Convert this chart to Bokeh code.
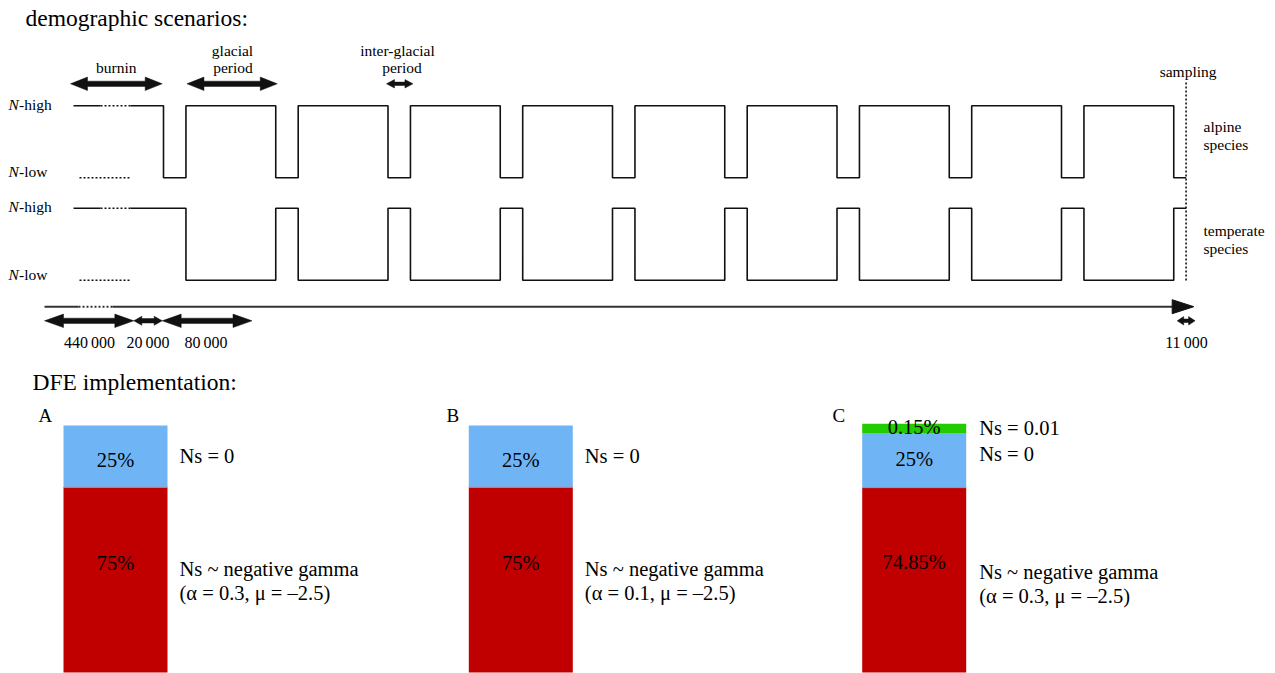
from bokeh.plotting import figure
from bokeh.models import Range1d, ColumnDataSource
from bokeh.core.properties import value
from bokeh.embed import file_html
from bokeh.resources import INLINE

# ------------------------------------------------------------------ data
burnin_gens = 440000
interglacial_gens = 20000
glacial_gens = 80000
n_cycles = 9
final_interglacial_gens = 11000
species = ["alpine", "temperate"]
species_labels = [["alpine", "species"], ["temperate", "species"]]
# population size state per phase (1 = N-high, 0 = N-low)
state_burnin = [1, 1]
state_interglacial = [0, 1]
state_glacial = [1, 0]

panels = ["A", "B", "C"]
pct_deleterious = [75, 75, 74.85]
pct_neutral = [25, 25, 25]
pct_beneficial = [0, 0, 0.15]
gamma_alpha = [0.3, 0.1, 0.3]
gamma_mu = [-2.5, -2.5, -2.5]
ns_neutral = 0
ns_beneficial = 0.01

# ------------------------------------------------------------------ layout
W, H = 1275, 673
FONT = value("Liberation Serif")
INK = "#111111"
BLUE, RED, GREEN = "#6fb5f6", "#c00000", "#22cc00"
BASE_SHIFT = 0.35  # em correction for the rendered alphabetic baseline

p = figure(width=W, height=H, x_range=Range1d(0, W), y_range=Range1d(H, 0),
           output_backend="svg", toolbar_location=None,
           x_axis_type=None, y_axis_type=None, min_border=0,
           outline_line_color=None, background_fill_color="white",
           border_fill_color="white")
p.grid.visible = False


def txt(x, y, s, size, align="left", style="normal", color="black"):
    src = ColumnDataSource(dict(x=[x], y=[y - BASE_SHIFT * size], t=[s]))
    p.text(x="x", y="y", text="t", source=src, text_font=FONT,
           text_font_size=value(f"{size}px"), text_align=align,
           text_baseline="alphabetic", text_font_style=style,
           text_color=color)


def darrow(x1, x2, y, hl, hh, st, color=INK):
    xs = [x1, x1 + hl, x1 + hl, x2 - hl, x2 - hl, x2, x2 - hl, x2 - hl, x1 + hl, x1 + hl]
    ys = [y, y - hh, y - st, y - st, y - hh, y, y + hh, y + st, y + st, y + hh]
    p.patch(xs, ys, fill_color=color, line_color=color, line_width=0.5)


# ---------------- demographic scenarios
txt(25, 25.5, "demographic scenarios:", 23.5)

X_T0 = 163.0
PX_PER_GEN = 1.1225 / 1000.0
ROW_HIGH = [105.3, 207.7]
ROW_GAP = 72.0


def tx(t):
    return X_T0 + t * PX_PER_GEN


phases = []
t = 0
for i in range(n_cycles):
    phases.append((t, t + interglacial_gens, "inter"))
    t += interglacial_gens
    phases.append((t, t + glacial_gens, "glacial"))
    t += glacial_gens
phases.append((t, t + final_interglacial_gens, "inter"))
t_end = t + final_interglacial_gens

for k, sp in enumerate(species):
    hi = ROW_HIGH[k]
    lo = hi + ROW_GAP

    def lvl(s):
        return hi if s == 1 else lo

    # burnin (broken)
    yb = lvl(state_burnin[k])
    p.line([73, 100], [yb, yb], line_color=INK, line_width=1.5)
    p.line([100, 130], [yb, yb], line_color=INK, line_width=1.5, line_dash="2 2")
    p.line([79, 130], [lo, lo], line_color=INK, line_width=1.5, line_dash="2 2")
    xs, ys = [130, X_T0], [yb, yb]
    for (a, b, kind) in phases:
        s = state_interglacial[k] if kind == "inter" else state_glacial[k]
        xs += [tx(a), tx(b)]
        ys += [lvl(s), lvl(s)]
    p.line(xs, ys, line_color=INK, line_width=1.6)

    # left labels
    txt(8, hi + 3.8, "N", 15.5, style="italic")
    txt(18.6, hi + 3.8, "-high", 15.5)
    txt(8, lo - 0.5, "N", 15.5, style="italic")
    txt(18.6, lo - 0.5, "-low", 15.5)
    # right labels
    l1, l2 = species_labels[k]
    txt(1203, hi + 26 + 2 * k, l1, 15.5)
    txt(1203, hi + 44 + 2 * k, l2, 15.5)

# sampling line
xs_end = tx(t_end)
p.line([xs_end, xs_end], [82, 281], line_color=INK, line_width=1.6, line_dash="2 2")
txt(xs_end + 2, 76, "sampling", 15.5, align="center")

# top arrows and labels
darrow(70, 161.7, 83.3, 17, 6.7, 2.6)
txt(115.8, 72, "burnin", 15.5, align="center")
darrow(tx(interglacial_gens) + 1, tx(interglacial_gens + glacial_gens) + 1.5, 83.3, 17, 6.7, 2.6)
txt(232, 55.5, "glacial", 15.5, align="center")
txt(232.5, 72.5, "period", 15.5, align="center")
xa = tx(2 * (interglacial_gens + glacial_gens))
darrow(xa - 1.5, tx(2 * (interglacial_gens + glacial_gens) + interglacial_gens) + 2.5, 83.3, 8, 4.2, 1.7)
txt(397, 55, "inter-glacial", 15.5, align="center")
txt(401.5, 72.5, "period", 15.5, align="center")

# time axis
YA = 306.2
p.line([44, 78], [YA, YA], line_color="#333333", line_width=2)
p.line([78, 112], [YA, YA], line_color="#333333", line_width=2, line_dash="2 2")
p.line([112, 1173], [YA, YA], line_color="#333333", line_width=2)
p.patch([1171.7, 1193.3, 1171.7], [YA - 7, YA, YA + 7], fill_color=INK, line_color=INK)


def fmt(n):
    return f"{n:,}".replace(",", "\u2009")


YB = 320.3
darrow(44, 133.3, YB, 19, 6.7, 2.6)
txt(89, 347.5, fmt(burnin_gens), 16, align="center")
darrow(133.3, 161.7, YB, 8, 4.5, 2.2)
txt(147.5, 347.5, fmt(interglacial_gens), 16, align="center")
darrow(161.7, 161.7 + glacial_gens * PX_PER_GEN, YB, 19, 6.7, 2.6)
txt(205.5, 347.5, fmt(glacial_gens), 16, align="center")
darrow(1176.7, 1176.7 + final_interglacial_gens * PX_PER_GEN * 1.45, YB, 6.5, 4.2, 1.7)
txt(1186, 347.5, fmt(final_interglacial_gens), 16, align="center")

# ---------------- DFE implementation
txt(32, 390, "DFE implementation:", 23.5)

BAR_X = [63, 468.3, 861.7]
LETTER_X = [38, 446, 832]
BAR_W = 104
BAR_TOP, BAR_BOTTOM = 425, 672
BAR_H = BAR_BOTTOM - BAR_TOP
MIN_SHARE = 3.0


def yv(share):
    return BAR_BOTTOM - share / 100.0 * BAR_H


for i, name in enumerate(panels):
    x0 = BAR_X[i]
    x1 = x0 + BAR_W
    xc = x0 + BAR_W / 2
    tr = x1 + 12
    ben = max(pct_beneficial[i], MIN_SHARE) if pct_beneficial[i] > 0 else 0
    dele = pct_deleterious[i]
    top_extra = 0.7 if ben > 0 else 0
    p.quad(left=[x0], right=[x1], bottom=[yv(0)], top=[yv(dele)],
           fill_color=RED, line_color=None)
    p.quad(left=[x0], right=[x1], bottom=[yv(dele)], top=[yv(100 - ben)],
           fill_color=BLUE, line_color=None)
    p.segment(x0=[x0], x1=[x1], y0=[yv(dele)], y1=[yv(dele)],
              line_color="#d98080", line_width=1)
    if ben > 0:
        p.quad(left=[x0], right=[x1], bottom=[yv(100 - ben)],
               top=[yv(100 + top_extra)], fill_color=GREEN, line_color=None)
    txt(LETTER_X[i], 421.5, name, 19)

    mu_s = f"{gamma_mu[i]:g}".replace("-", "\u2013")
    par = f"(\u03b1 = {gamma_alpha[i]:g}, \u03bc = {mu_s})"
    if ben > 0:
        txt(xc, 434, f"{pct_beneficial[i]:g}%", 20.5, align="center")
        txt(xc, 466, f"{pct_neutral[i]:g}%", 20.5, align="center")
        txt(xc, 568.5, f"{dele:g}%", 20.5, align="center")
        txt(tr + 1, 435, f"Ns = {ns_beneficial:g}", 20.5)
        txt(tr + 1, 460.5, f"Ns = {ns_neutral:g}", 20.5)
        txt(tr + 1, 578.5, "Ns ~ negative gamma", 20.5)
        txt(tr + 1, 603, par, 20.5)
    else:
        txt(xc, 466.5, f"{pct_neutral[i]:g}%", 20.5, align="center")
        txt(xc, 569.5, f"{dele:g}%", 20.5, align="center")
        txt(tr, 463, f"Ns = {ns_neutral:g}", 20.5)
        txt(tr, 575.7, "Ns ~ negative gamma", 20.5)
        txt(tr, 599.5, par, 20.5)

open("out.html", "w").write(file_html(p, INLINE))
